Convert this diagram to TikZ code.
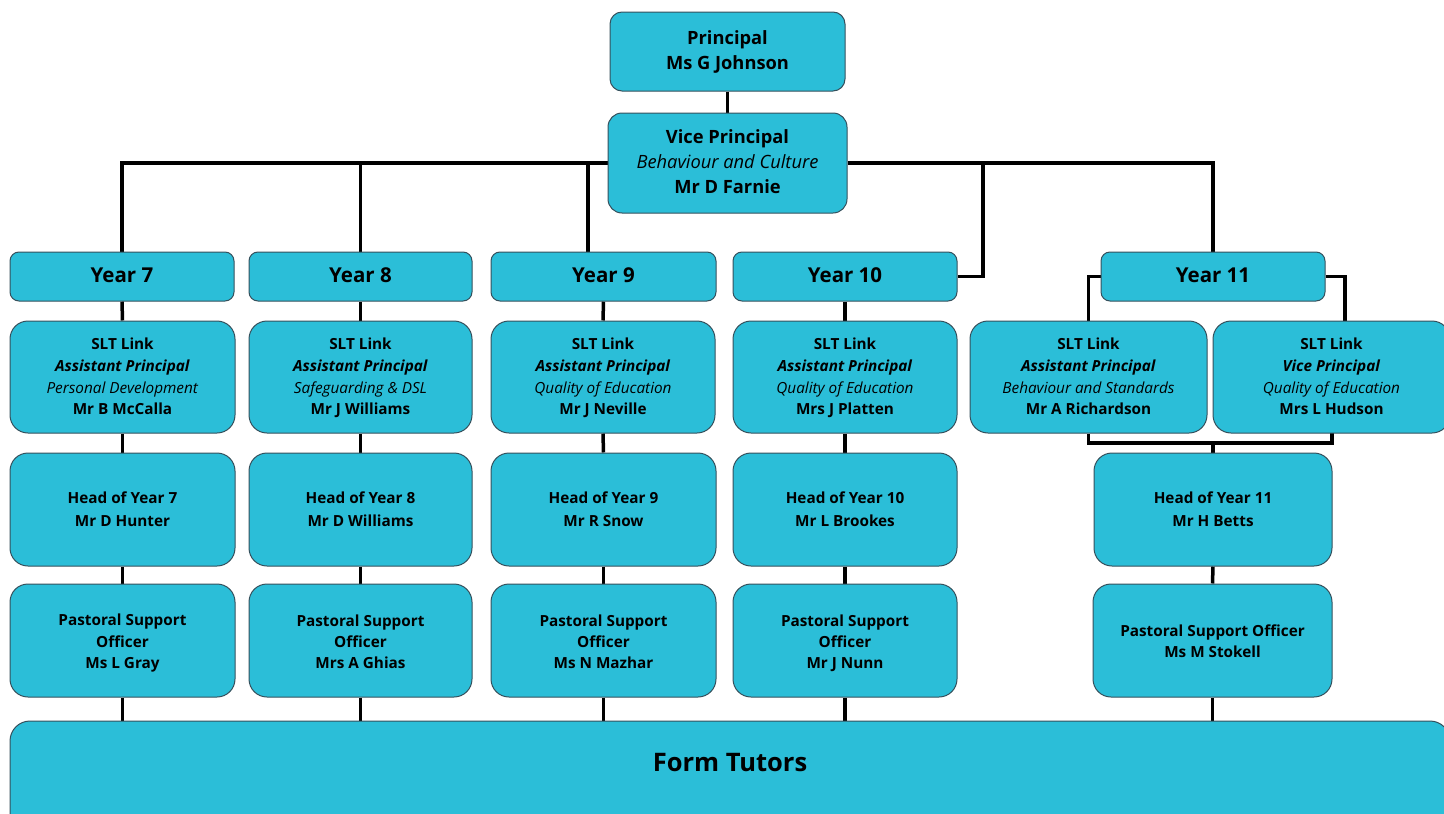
\documentclass[tikz,border=0pt]{standalone}
\usepackage{fontspec}
\setmainfont{Open Sans}
\usetikzlibrary{backgrounds}
\definecolor{boxfill}{HTML}{2BBED8}
\definecolor{boxedge}{HTML}{35505C}
\tikzset{
  orgbox/.style={draw=boxedge, line width=1pt, fill=boxfill, rounded corners=#1,
    inner sep=0pt, align=center, text=black},
  orgbox/.default=16pt,
  yearbox/.style={orgbox=9pt, minimum height=49pt, font=\fontsize{20.5}{24}\selectfont\bfseries},
  sltbox/.style={orgbox=18pt, minimum height=112pt, font=\fontsize{15.3}{21.7}\selectfont},
  headbox/.style={orgbox=18pt, minimum height=113pt, font=\fontsize{15.3}{22.8}\selectfont\bfseries},
  psobox/.style={orgbox=18pt, minimum height=113pt, font=\fontsize{15.3}{21.2}\selectfont\bfseries},
  link/.style={line width=3.5pt, black}
}
% fixed top and bottom of every text block, so that all blocks centre alike
\newcommand{\topst}{\rule{0pt}{14pt}}
\newcommand{\psotop}{\rule{0pt}{17pt}}
\newcommand{\botst}{\rule[-3.5pt]{0pt}{0pt}}
\newcommand{\yrbot}{\rule[-3pt]{0pt}{0pt}}
\newcommand{\sltlines}[4]{\topst\textbf{#1}\\\textbf{\itshape #2}\\\textit{#3}\\\textbf{#4}\botst}
\begin{document}
\begin{tikzpicture}[x=1pt, y=-1pt]
\useasboundingbox (0,0) rectangle (1444,814);

% top of the structure
\node[orgbox=12pt, minimum width=235pt, minimum height=79pt,
      font=\fontsize{18.3}{25}\selectfont\bfseries] (pr) at (727.5,51.5) {\topst Principal\\Ms G Johnson\botst};
\node[orgbox=14pt, minimum width=239pt, minimum height=100pt,
      font=\fontsize{18.3}{25}\selectfont] (vp) at (727.5,163)
  {\topst\textbf{Vice Principal}\\\textit{Behaviour and Culture}\\\textbf{Mr D Farnie}\botst};

% year groups
\node[yearbox, minimum width=224pt] (y7)  at (122,276.5)   {Year 7\yrbot};
\node[yearbox, minimum width=223pt] (y8)  at (360.5,276.5) {Year 8\yrbot};
\node[yearbox, minimum width=225pt] (y9)  at (603.5,276.5) {Year 9\yrbot};
\node[yearbox, minimum width=224pt] (y10) at (845,276.5)   {Year 10\yrbot};
\node[yearbox, minimum width=224pt] (y11) at (1213,276.5)  {Year 11\yrbot};

% SLT links
\node[sltbox, minimum width=225pt] (s7)  at (122.5,377) {\sltlines{SLT Link}{Assistant Principal}{Personal Development}{Mr B McCalla}};
\node[sltbox, minimum width=223pt] (s8)  at (360.5,377) {\sltlines{SLT Link}{Assistant Principal}{Safeguarding \& DSL}{Mr J Williams}};
\node[sltbox, minimum width=224pt] (s9)  at (603,377)   {\sltlines{SLT Link}{Assistant Principal}{Quality of Education}{Mr J Neville}};
\node[sltbox, minimum width=224pt] (s10) at (845,377)   {\sltlines{SLT Link}{Assistant Principal}{Quality of Education}{Mrs J Platten}};
\node[sltbox, minimum width=237pt] (s11a) at (1088.5,377) {\sltlines{SLT Link}{Assistant Principal}{Behaviour and Standards}{Mr A Richardson}};
\node[sltbox, minimum width=237pt] (s11b) at (1331.5,377) {\sltlines{SLT Link}{Vice Principal}{Quality of Education}{Mrs L Hudson}};

% heads of year
\node[headbox, minimum width=225pt] (h7)  at (122.5,509.5) {\topst Head of Year 7\\Mr D Hunter\botst};
\node[headbox, minimum width=223pt] (h8)  at (360.5,509.5) {\topst Head of Year 8\\Mr D Williams\botst};
\node[headbox, minimum width=225pt] (h9)  at (603.5,509.5) {\topst Head of Year 9\\Mr R Snow\botst};
\node[headbox, minimum width=224pt] (h10) at (845,509.5)   {\topst Head of Year 10\\Mr L Brookes\botst};
\node[headbox, minimum width=238pt] (h11) at (1213,509.5)  {\topst Head of Year 11\\Mr H Betts\botst};

% pastoral support officers
\node[psobox, minimum width=225pt] (p7)  at (122.5,640.5) {\psotop Pastoral Support\\Officer\\Ms L Gray\botst};
\node[psobox, minimum width=223pt] (p8)  at (360.5,640.5) {\psotop Pastoral Support\\Officer\\Mrs A Ghias\botst};
\node[psobox, minimum width=225pt] (p9)  at (603.5,640.5) {\psotop Pastoral Support\\Officer\\Ms N Mazhar\botst};
\node[psobox, minimum width=224pt] (p10) at (845,640.5)   {\psotop Pastoral Support\\Officer\\Mr J Nunn\botst};
\node[psobox, minimum width=239pt] (p11) at (1212.5,640.5) {\psotop Pastoral Support Officer\\Ms M Stokell\botst};

% form tutors band
\node[orgbox=20pt, minimum width=1440pt, minimum height=120pt] (ft) at (730,781) {};
\node[font=\fontsize{25.5}{28}\selectfont\bfseries, inner sep=0pt] (ftl) at (730,763) {Form Tutors};

% junction points of the connectors
\coordinate (j9)  at (588,252);
\coordinate (k10) at (983,276.5);
\coordinate (m11) at (1345,321);
\coordinate (n11) at (1332,433);
\coordinate (bar) at (1213,443);

\begin{scope}[on background layer]
  \draw[link] (pr) -- (vp);
  \draw[link] (vp.west) -| (y7.north);
  \draw[link] (vp.west) -| (y8.north);
  \draw[link] (vp.west) -| (j9);
  \draw[link] (vp.east) -| (k10) -- (y10.east);
  \draw[link] (vp.east) -| (y11.north);
  \draw[link] (y11.west) -| (s11a.north);
  \draw[link] (y11.east) -| (m11);
  \draw[link] (s11a.south) |- (bar);
  \draw[link] (n11) |- (bar);
  \draw[link] (bar) -- (h11.north);
  \foreach \i in {7,8,9,10}{
    \draw[link] (y\i.south) -- (s\i.north);
    \draw[link] (s\i.south) -- (h\i.north);
    \draw[link] (h\i.south) -- (p\i.north);
    \draw[link] (p\i.south) -- (p\i.south |- ft.north);
  }
  \draw[link] (h11.south) -- (p11.north);
  \draw[link] (p11.south) -- (p11.south |- ft.north);
\end{scope}
\end{tikzpicture}
\end{document}
